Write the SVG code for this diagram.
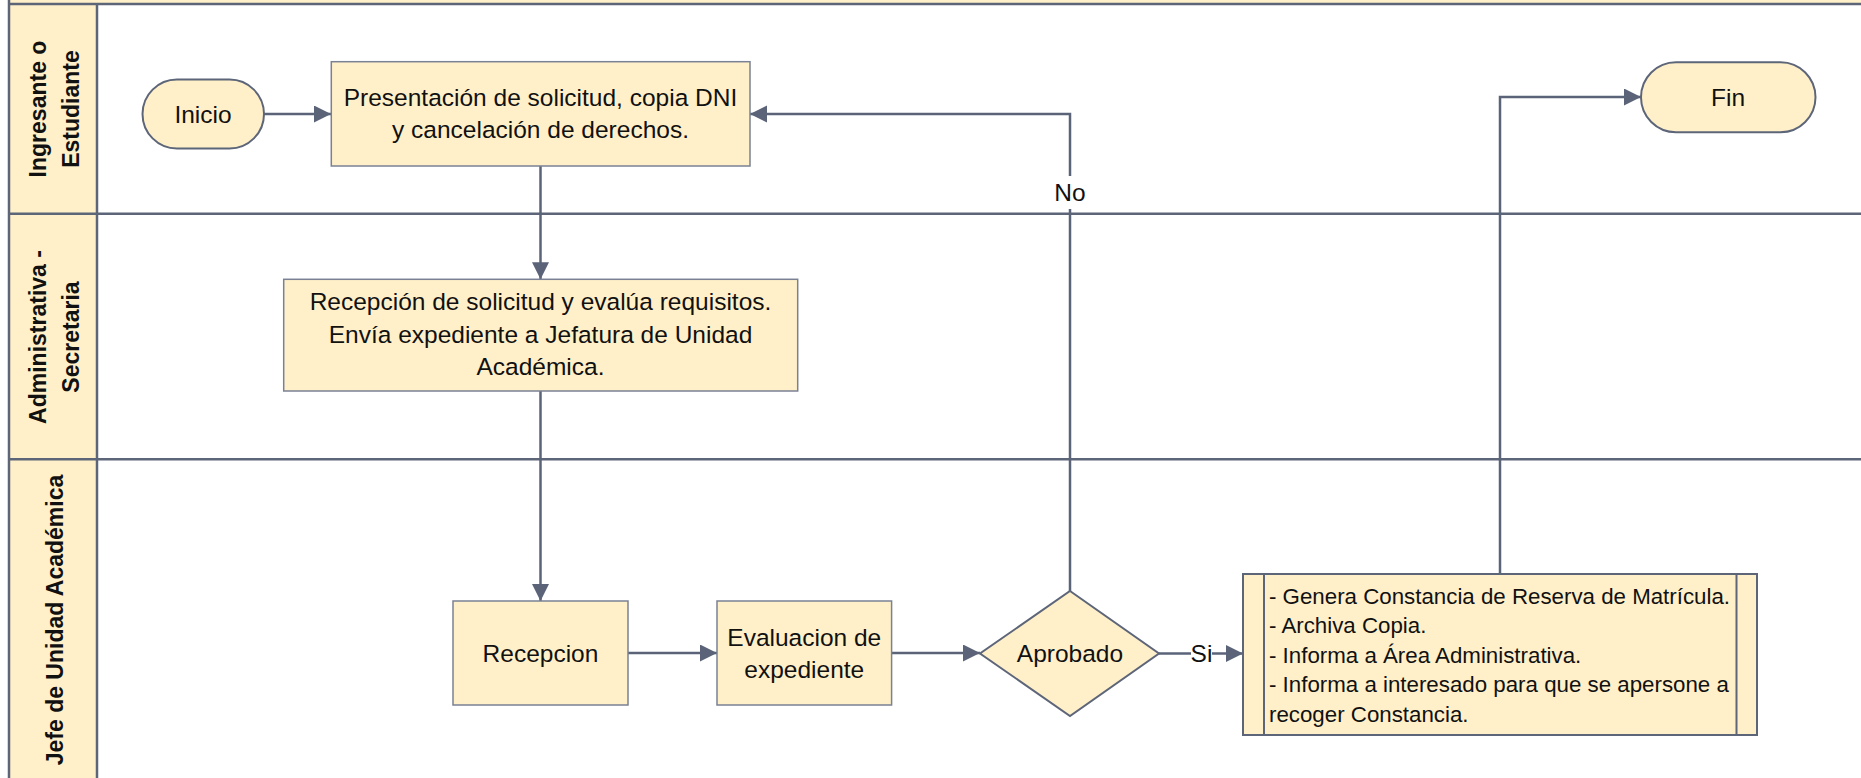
<svg xmlns="http://www.w3.org/2000/svg" width="1861" height="778" viewBox="0 0 1861 778">
<style>
  .lane-hdr { fill: #fff0c9; stroke: none; }
  .lane-line { stroke: #5d6579; stroke-width: 2.5; fill: none; }
  .box { fill: #fff0c9; stroke: #7a8194; stroke-width: 1.5; }
  .term { fill: #fff0c9; stroke: #5d6579; stroke-width: 2; }
  .conn { stroke: #5a6378; stroke-width: 2.5; fill: none; }
  .t { font-family: "Liberation Sans", Arial, sans-serif; font-size: 24.5px; fill: #111111; text-anchor: middle; }
  .tl { font-family: "Liberation Sans", Arial, sans-serif; font-size: 22.3px; fill: #111111; }
  .lbl { font-family: "Liberation Sans", Arial, sans-serif; font-size: 23px; font-weight: bold; fill: #111111; text-anchor: middle; }
</style>
<defs>
  <marker id="arrow" markerUnits="userSpaceOnUse" markerWidth="18" markerHeight="18" refX="17" refY="8.5" orient="auto">
    <path d="M0,0 L17,8.5 L0,17 Z" fill="#5a6378"/>
  </marker>
</defs>
<rect x="0" y="0" width="1861" height="778" fill="#ffffff"/>

<g id="pool">
  <rect x="9" y="-5" width="1860" height="9" class="lane-hdr"/>
  <rect x="9" y="4" width="88" height="780" class="lane-hdr"/>
  <line x1="9" y1="4" x2="1861" y2="4" class="lane-line"/>
  <line x1="9" y1="-2" x2="9" y2="780" class="lane-line"/>
  <line x1="97" y1="4" x2="97" y2="780" class="lane-line"/>
  <line x1="9" y1="213.7" x2="1861" y2="213.7" class="lane-line"/>
  <line x1="9" y1="459.3" x2="1861" y2="459.3" class="lane-line"/>
</g>

<g id="lane1-label">
  <text class="lbl" transform="translate(53,109) rotate(-90)"><tspan x="0" y="-7.5">Ingresante o</tspan><tspan x="0" y="25.5">Estudiante</tspan></text>
</g>
<g id="lane2-label">
  <text class="lbl" transform="translate(53,337) rotate(-90)"><tspan x="0" y="-7.5">Administrativa -</tspan><tspan x="0" y="25.5">Secretaria</tspan></text>
</g>
<g id="lane3-label">
  <text class="lbl" transform="translate(54,620) rotate(-90)" y="8.5">Jefe de Unidad Académica</text>
</g>

<g id="connectors">
  <path d="M264,114 H331" class="conn" marker-end="url(#arrow)"/>
  <path d="M540.5,166 V279.3" class="conn" marker-end="url(#arrow)"/>
  <path d="M540.5,391 V601" class="conn" marker-end="url(#arrow)"/>
  <path d="M628,653 H717" class="conn" marker-end="url(#arrow)"/>
  <path d="M891.6,653 H980" class="conn" marker-end="url(#arrow)"/>
  <path d="M1070,591 V114 H750" class="conn" marker-end="url(#arrow)"/>
  <path d="M1159,653.5 H1243" class="conn" marker-end="url(#arrow)"/>
  <path d="M1500,574 V97 H1641" class="conn" marker-end="url(#arrow)"/>
  <g id="label-no">
    <rect x="1057" y="176" width="26" height="33" fill="#ffffff"/>
    <text class="t" x="1070" y="201">No</text>
  </g>
  <g id="label-si">
    <rect x="1191" y="641" width="21" height="26" fill="#ffffff"/>
    <text class="t" x="1201.5" y="662">Si</text>
  </g>
</g>

<g id="inicio">
  <rect x="142.5" y="79.5" width="121.5" height="69" rx="34.5" ry="34.5" class="term"/>
  <text class="t" x="203" y="122.5">Inicio</text>
</g>

<g id="presentacion">
  <rect x="331.3" y="61.7" width="418.7" height="104.3" class="box"/>
  <text class="t" x="540.5" y="105.8">Presentación de solicitud, copia DNI</text>
  <text class="t" x="540.5" y="137.8">y cancelación de derechos.</text>
</g>

<g id="fin">
  <rect x="1641" y="62.3" width="174.5" height="70" rx="35" ry="35" class="term"/>
  <text class="t" x="1728" y="105.5">Fin</text>
</g>

<g id="recepcion-solicitud">
  <rect x="283.7" y="279.3" width="514" height="111.7" class="box"/>
  <text class="t" x="540.5" y="310.2">Recepción de solicitud y evalúa requisitos.</text>
  <text class="t" x="540.5" y="342.7">Envía expediente a Jefatura de Unidad</text>
  <text class="t" x="540.5" y="375.2">Académica.</text>
</g>

<g id="recepcion">
  <rect x="453" y="601" width="175" height="104" class="box"/>
  <text class="t" x="540.5" y="661.5">Recepcion</text>
</g>

<g id="evaluacion">
  <rect x="717" y="601" width="174.6" height="104" class="box"/>
  <text class="t" x="804.3" y="645.5">Evaluacion de</text>
  <text class="t" x="804.3" y="678">expediente</text>
</g>

<g id="aprobado">
  <polygon points="1070,591 1159,653.5 1070,716 980,653.5" class="term"/>
  <text class="t" x="1070" y="662">Aprobado</text>
</g>

<g id="acciones">
  <rect x="1243" y="574" width="514" height="161" class="term"/>
  <line x1="1264" y1="574" x2="1264" y2="735" stroke="#5d6579" stroke-width="2"/>
  <line x1="1736.5" y1="574" x2="1736.5" y2="735" stroke="#5d6579" stroke-width="2"/>
  <text class="tl" x="1269" y="603.5">- Genera Constancia de Reserva de Matrícula.</text>
  <text class="tl" x="1269" y="633">- Archiva Copia.</text>
  <text class="tl" x="1269" y="662.5">- Informa a Área Administrativa.</text>
  <text class="tl" x="1269" y="692">- Informa a interesado para que se apersone a</text>
  <text class="tl" x="1269" y="721.5">recoger Constancia.</text>
</g>
</svg>
